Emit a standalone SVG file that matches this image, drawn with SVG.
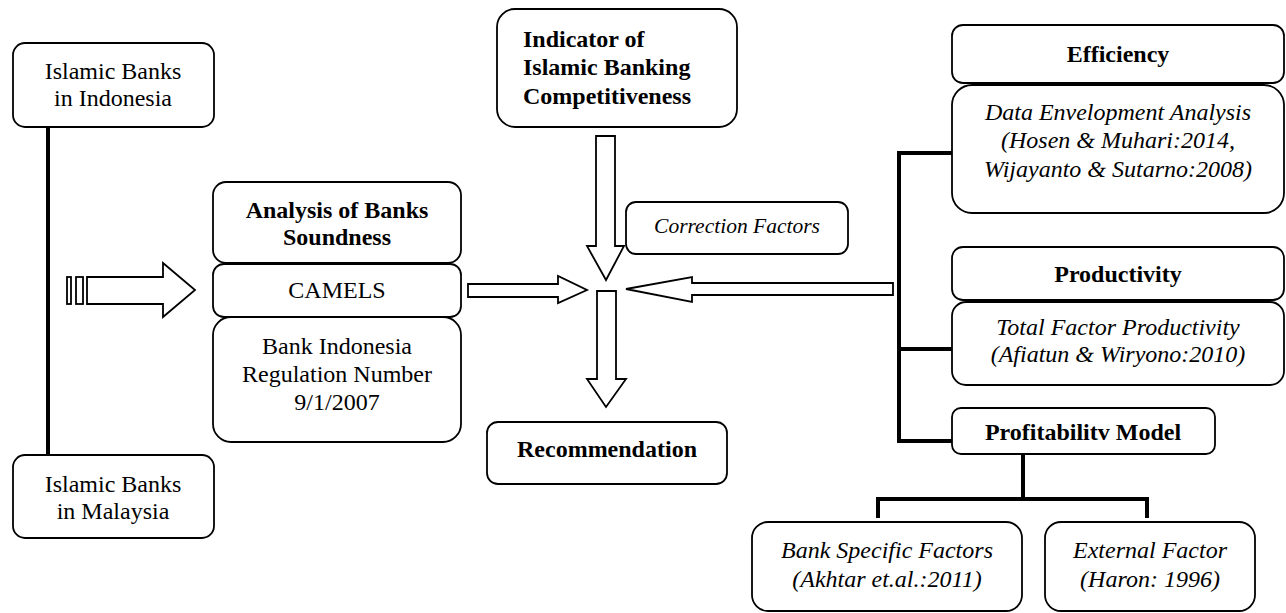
<svg xmlns="http://www.w3.org/2000/svg" width="1286" height="613" viewBox="0 0 1286 613">
<style>
.box{fill:#fff;stroke:#000;stroke-width:1.8}
.t{font-family:"Liberation Serif","Times New Roman",serif;font-size:24px;fill:#000;text-anchor:middle}
.b{font-weight:bold}
.i{font-style:italic}
.ln{fill:none;stroke:#000;stroke-width:4}
.ar{fill:#fff;stroke:#000;stroke-width:1.8;stroke-linejoin:miter}
</style>
<rect width="1286" height="613" fill="#fff"/>
<g id="connectors">
<line class="ln" x1="48" y1="127" x2="48" y2="455"/>
<polyline class="ln" points="957,153 899,153 899,441 952,441"/>
<line class="ln" x1="899" y1="349" x2="952" y2="349"/>
<line class="ln" x1="1023" y1="454" x2="1023" y2="499"/>
<polyline class="ln" points="878,518 878,499 1147,499 1147,518"/>
<rect class="ar" x="67" y="277" width="4" height="27"/>
<rect class="ar" x="76" y="277" width="7" height="27"/>
<polygon class="ar" points="87,277 163,277 163,263 195,290 163,317 163,304 87,304"/>
<polygon class="ar" points="468,284 558,284 558,276 587,290 558,303 558,297 468,297"/>
<polygon class="ar" points="893,283 692,283 692,277 626,289 692,302 692,295 893,295"/>
<polygon class="ar" points="596,136 615,136 615,246 624,246 606,280 587,246 596,246"/>
<polygon class="ar" points="597,291 616,291 616,379 626,379 606,407 587,379 597,379"/>
</g>
<g id="indonesia">
<rect class="box" x="13" y="43" width="201" height="84" rx="12"/>
<text class="t" x="113" y="79">Islamic Banks</text>
<text class="t" x="113" y="106">in Indonesia</text>
</g>
<g id="malaysia">
<rect class="box" x="13" y="455" width="201" height="83" rx="12"/>
<text class="t" x="113" y="492">Islamic Banks</text>
<text class="t" x="113" y="519">in Malaysia</text>
</g>
<g id="analysis">
<rect class="box" x="213" y="182" width="248" height="81" rx="13"/>
<text class="t b" x="337" y="218">Analysis of Banks</text>
<text class="t b" x="337" y="245">Soundness</text>
</g>
<g id="camels">
<rect class="box" x="213" y="264" width="248" height="53" rx="11"/>
<text class="t" x="337" y="298">CAMELS</text>
</g>
<g id="regulation">
<rect class="box" x="213" y="317" width="248" height="125" rx="18"/>
<text class="t" x="337" y="354">Bank Indonesia</text>
<text class="t" x="337" y="382">Regulation Number</text>
<text class="t" x="337" y="410">9/1/2007</text>
</g>
<g id="indicator">
<rect class="box" x="497" y="9" width="240" height="118" rx="18"/>
<text class="t b" x="523" y="47" text-anchor="start" style="text-anchor:start">Indicator of</text>
<text class="t b" x="523" y="75" style="text-anchor:start">Islamic Banking</text>
<text class="t b" x="523" y="104" style="text-anchor:start">Competitiveness</text>
</g>
<g id="correction">
<rect class="box" x="626" y="202" width="222" height="52" rx="10"/>
<text class="t i" x="737" y="233" style="font-size:21.5px">Correction Factors</text>
</g>
<g id="recommendation">
<rect class="box" x="487" y="422" width="240" height="62" rx="11"/>
<text class="t b" x="607" y="457">Recommendation</text>
</g>
<g id="efficiency">
<rect class="box" x="952" y="25" width="332" height="58" rx="11"/>
<text class="t b" x="1118" y="62">Efficiency</text>
</g>
<g id="dea">
<rect class="box" x="952" y="85" width="332" height="128" rx="20"/>
<text class="t i" x="1118" y="120">Data Envelopment Analysis</text>
<text class="t i" x="1118" y="148">(Hosen &amp; Muhari:2014,</text>
<text class="t i" x="1118" y="177">Wijayanto &amp; Sutarno:2008)</text>
</g>
<g id="productivity">
<rect class="box" x="952" y="247" width="332" height="53" rx="11"/>
<text class="t b" x="1118" y="282">Productivity</text>
</g>
<g id="tfp">
<rect class="box" x="952" y="302" width="332" height="83" rx="14"/>
<text class="t i" x="1118" y="335">Total Factor Productivity</text>
<text class="t i" x="1118" y="362">(Afiatun &amp; Wiryono:2010)</text>
</g>
<g id="profitability">
<rect class="box" x="952" y="408" width="263" height="46" rx="9"/>
<text class="t b" x="1083" y="440">Profitabilitv Model</text>
</g>
<g id="bankspecific">
<rect class="box" x="752" y="522" width="270" height="89" rx="16"/>
<text class="t i" x="887" y="558">Bank Specific Factors</text>
<text class="t i" x="887" y="587">(Akhtar et.al.:2011)</text>
</g>
<g id="external">
<rect class="box" x="1045" y="522" width="210" height="89" rx="16"/>
<text class="t i" x="1150" y="558">External Factor</text>
<text class="t i" x="1150" y="587">(Haron: 1996)</text>
</g>
</svg>
